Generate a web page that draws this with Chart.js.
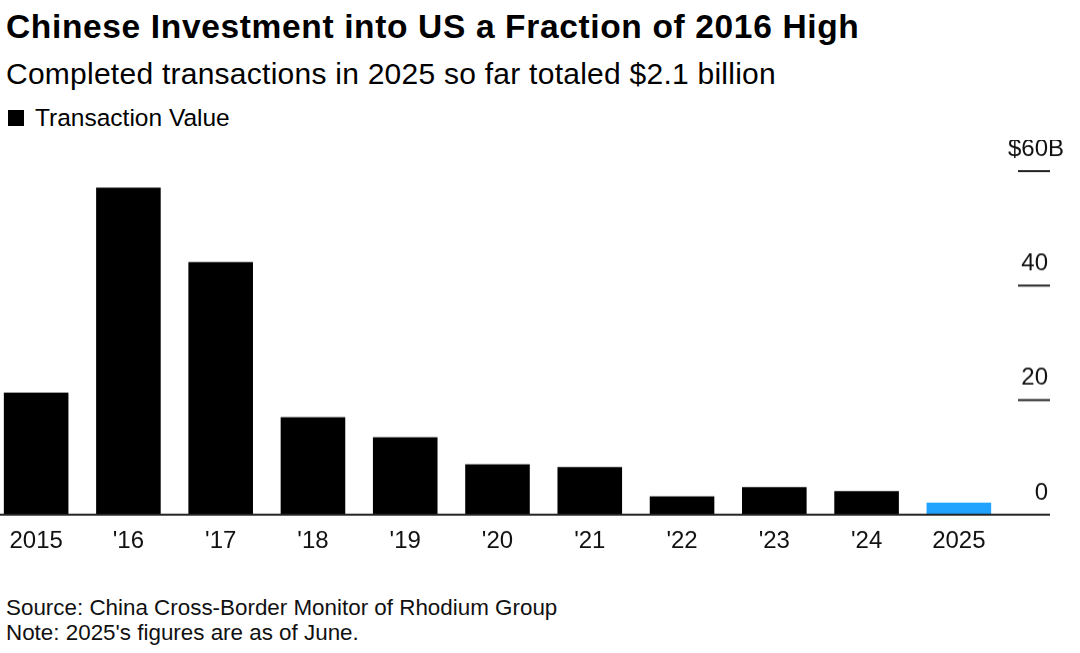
<!DOCTYPE html>
<html lang="en">
<head>
<meta charset="UTF-8">
<title>Chinese Investment into US</title>
<script src="https://cdn.jsdelivr.net/npm/chart.js"></script>
<style>
  body { margin: 0; background: #fff; font-family: "Liberation Sans", Arial, sans-serif; color: #000; width: 1080px; height: 653px; overflow: hidden; position: relative; }
  .title { position: absolute; left: 6px; top: 8px; font-size: 33.5px; font-weight: bold; letter-spacing: 0.65px; }
  .subtitle { position: absolute; left: 6px; top: 57px; font-size: 30px; letter-spacing: 0.25px; }
  .legend { position: absolute; left: 8px; top: 104px; font-size: 24.5px; display: flex; align-items: center; }
  .legend span.box { display: inline-block; width: 16px; height: 16px; background: #000; margin-right: 11px; }
  .chart-wrap { position: absolute; left: -10px; top: 140px; width: 1090px; height: 418.5px; }
  .footer { position: absolute; left: 6px; top: 595px; font-size: 22.4px; line-height: 25px; color: #111; }
</style>
</head>
<body>
<div class="title">Chinese Investment into US a Fraction of 2016 High</div>
<div class="subtitle">Completed transactions in 2025 so far totaled $2.1 billion</div>
<div class="legend"><span class="box"></span>Transaction Value</div>
<div class="chart-wrap"><canvas id="chart"></canvas></div>
<div class="footer">Source: China Cross-Border Monitor of Rhodium Group<br>Note: 2025's figures are as of June.</div>

<script>
  // data ($ billions)
  const years = ['2015', "'16", "'17", "'18", "'19", "'20", "'21", "'22", "'23", "'24", '2025'];
  const values = [21.3, 57.1, 44.1, 17.0, 13.5, 8.8, 8.3, 3.2, 4.8, 4.1, 2.1];
  const yTicks = [0, 20, 40, 60];
  const yTickLabels = ['0', '20', '40', '$60'];
  const topUnit = 'B';

  const barColors = years.map((y, i) => i === years.length - 1 ? '#1fa3ff' : '#000');

  // right-hand axis: short tick lines with labels above them, plus the baseline
  const rightAxis = {
    id: 'rightAxis',
    afterDatasetsDraw(chart) {
      const ctx = chart.ctx;
      const y = chart.scales.y;
      const area = chart.chartArea;
      ctx.save();
      ctx.strokeStyle = '#222';
      ctx.lineWidth = 2;
      ctx.fillStyle = '#111';
      ctx.font = '24px "Liberation Sans", Arial, sans-serif';
      ctx.textBaseline = 'alphabetic';
      yTicks.forEach((v, i) => {
        const py = y.getPixelForValue(v);
        ctx.beginPath();
        ctx.moveTo(v === 0 ? area.left : 1028, py);
        ctx.lineTo(1060, py);
        ctx.stroke();
        ctx.textAlign = 'right';
        ctx.fillText(yTickLabels[i], 1058, py - 15);
        if (i === yTicks.length - 1) {
          ctx.textAlign = 'left';
          ctx.fillText(topUnit, 1058, py - 15);
        }
      });
      ctx.restore();
    }
  };

  new Chart(document.getElementById('chart'), {
    type: 'bar',
    data: {
      labels: years,
      datasets: [{
        label: 'Transaction Value',
        data: values,
        backgroundColor: barColors,
        borderWidth: 0,
        barPercentage: 0.7,
        categoryPercentage: 1.0
      }]
    },
    options: {
      responsive: true,
      maintainAspectRatio: false,
      animation: false,
      layout: { padding: { top: 31, right: 75, left: 0, bottom: 0 } },
      plugins: { legend: { display: false }, tooltip: { enabled: false } },
      scales: {
        x: {
          grid: { display: false },
          border: { display: false },
          ticks: { color: '#111', font: { size: 24, family: '"Liberation Sans", Arial, sans-serif' }, padding: 4, maxRotation: 0 }
        },
        y: {
          display: false,
          min: 0,
          max: 60
        }
      }
    },
    plugins: [rightAxis]
  });
</script>
</body>
</html>
